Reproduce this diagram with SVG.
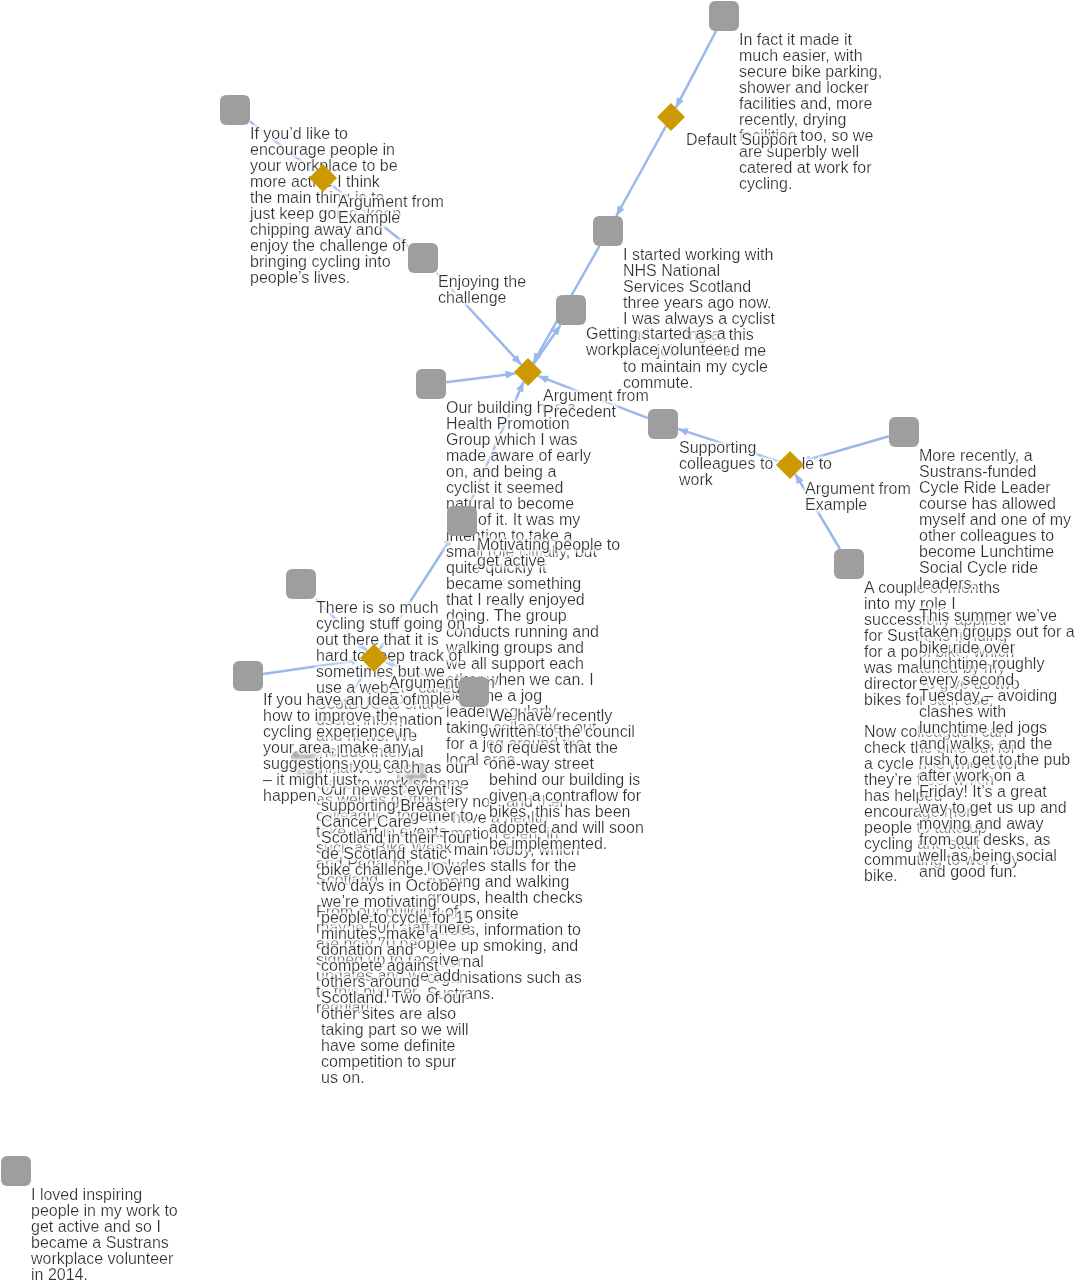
<svg xmlns="http://www.w3.org/2000/svg" width="1083" height="1287" viewBox="0 0 1083 1287">
<style>
.t{font-family:"Liberation Sans",Arial,sans-serif;font-size:16px;fill:#333;filter:url(#halo)}
.n{fill:#9e9e9e}
.d{fill:#cc9900}
.c{stroke:#9ab8ec;stroke-width:2.5;fill:none;marker-end:url(#ah)}
</style>
<defs>
<filter id="halo" x="-10%" y="-30%" width="120%" height="160%">
<feMorphology in="SourceAlpha" operator="dilate" radius="1.5" result="d"/>
<feGaussianBlur in="d" stdDeviation="1.5" result="b"/>
<feFlood flood-color="#ffffff" flood-opacity="0.95"/>
<feComposite in2="b" operator="in" result="g"/>
<feMerge><feMergeNode in="g"/><feMergeNode in="SourceGraphic"/></feMerge>
</filter>
<marker id="ah" markerUnits="userSpaceOnUse" markerWidth="10" markerHeight="8" refX="10" refY="4" orient="auto">
<path d="M0,0 L10,4 L0,8 z" fill="#9ab8ec"/>
</marker>
</defs>
<rect width="1083" height="1287" fill="#ffffff"/>
<g id="connectors">
<path class="c" d="M716.1,31 L675.8,107.8"/>
<path class="c" d="M666,126 L616.3,216"/>
<path class="c" d="M250,121.6 L315.1,171.9"/>
<path class="c" d="M330.8,184.2 L408,246"/>
<path class="c" d="M436.8,273 L521.3,364.7"/>
<path class="c" d="M599.5,246 L533.1,363"/>
<path class="c" d="M533.8,363.7 L560.6,325"/>
<path class="c" d="M446,382.2 L515.5,373.5"/>
<path class="c" d="M648,418.2 L538.1,375.9"/>
<path class="c" d="M468.6,506 L523.7,381.7"/>
<path class="c" d="M779.4,461.6 L678,428.9"/>
<path class="c" d="M889,436.3 L800.8,461.8"/>
<path class="c" d="M840,549 L795.2,473.8"/>
<path class="c" d="M379.5,649.5 L452.4,536"/>
<path class="c" d="M315.8,599 L367,651"/>
<path class="c" d="M263,673.9 L361.7,659.7"/>
<path class="c" d="M459,686.9 L384.4,661.5"/>
<path class="c" d="M315.4,751 L368.6,666.6"/>
<path class="c" d="M407.3,763 L377.4,668.7"/>
</g>
<g id="n14">
<rect class="n" x="1" y="1156" width="30" height="30" rx="6"/>
<text class="t" x="31" y="1200"><tspan x="31">I loved inspiring</tspan><tspan x="31" dy="16">people in my work to</tspan><tspan x="31" dy="16">get active and so I</tspan><tspan x="31" dy="16">became a Sustrans</tspan><tspan x="31" dy="16">workplace volunteer</tspan><tspan x="31" dy="16">in 2014.</tspan></text>
</g>
<g id="n1">
<rect class="n" x="709" y="1" width="30" height="30" rx="6"/>
<text class="t" x="739" y="45"><tspan x="739">In fact it made it</tspan><tspan x="739" dy="16">much easier, with</tspan><tspan x="739" dy="16">secure bike parking,</tspan><tspan x="739" dy="16">shower and locker</tspan><tspan x="739" dy="16">facilities and, more</tspan><tspan x="739" dy="16">recently, drying</tspan><tspan x="739" dy="16">facilities too, so we</tspan><tspan x="739" dy="16">are superbly well</tspan><tspan x="739" dy="16">catered at work for</tspan><tspan x="739" dy="16">cycling.</tspan></text>
</g>
<g id="d1">
<polygon class="d" points="671,103 685,117 671,131 657,117"/>
<text class="t" x="686" y="145">Default Support</text>
</g>
<g id="n2">
<rect class="n" x="220" y="95" width="30" height="30" rx="6"/>
<text class="t" x="250" y="139"><tspan x="250">If you’d like to</tspan><tspan x="250" dy="16">encourage people in</tspan><tspan x="250" dy="16">your workplace to be</tspan><tspan x="250" dy="16">more active I think</tspan><tspan x="250" dy="16">the main thing is to</tspan><tspan x="250" dy="16">just keep going, keep</tspan><tspan x="250" dy="16">chipping away and</tspan><tspan x="250" dy="16">enjoy the challenge of</tspan><tspan x="250" dy="16">bringing cycling into</tspan><tspan x="250" dy="16">people’s lives.</tspan></text>
</g>
<g id="d2">
<polygon class="d" points="323,164 337,178 323,192 309,178"/>
<text class="t" x="338" y="207"><tspan x="338">Argument from</tspan><tspan x="338" dy="16">Example</tspan></text>
</g>
<g id="n3">
<rect class="n" x="408" y="243" width="30" height="30" rx="6"/>
<text class="t" x="438" y="287"><tspan x="438">Enjoying the</tspan><tspan x="438" dy="16">challenge</tspan></text>
</g>
<g id="n4">
<rect class="n" x="593" y="216" width="30" height="30" rx="6"/>
<text class="t" x="623" y="260"><tspan x="623">I started working with</tspan><tspan x="623" dy="16">NHS National</tspan><tspan x="623" dy="16">Services Scotland</tspan><tspan x="623" dy="16">three years ago now.</tspan><tspan x="623" dy="16">I was always a cyclist</tspan><tspan x="623" dy="16">and starting at this</tspan><tspan x="623" dy="16">new job enabled me</tspan><tspan x="623" dy="16">to maintain my cycle</tspan><tspan x="623" dy="16">commute.</tspan></text>
</g>
<g id="n5">
<rect class="n" x="556" y="295" width="30" height="30" rx="6"/>
<text class="t" x="586" y="339"><tspan x="586">Getting started as a</tspan><tspan x="586" dy="16">workplace volunteer</tspan></text>
</g>
<g id="n6">
<rect class="n" x="416" y="369" width="30" height="30" rx="6"/>
<text class="t" x="446" y="413"><tspan x="446">Our building has a</tspan><tspan x="446" dy="16">Health Promotion</tspan><tspan x="446" dy="16">Group which I was</tspan><tspan x="446" dy="16">made aware of early</tspan><tspan x="446" dy="16">on, and being a</tspan><tspan x="446" dy="16">cyclist it seemed</tspan><tspan x="446" dy="16">natural to become</tspan><tspan x="446" dy="16">part of it. It was my</tspan><tspan x="446" dy="16">intention to take a</tspan><tspan x="446" dy="16">small role initially, but</tspan><tspan x="446" dy="16">quite quickly it</tspan><tspan x="446" dy="16">became something</tspan><tspan x="446" dy="16">that I really enjoyed</tspan><tspan x="446" dy="16">doing. The group</tspan><tspan x="446" dy="16">conducts running and</tspan><tspan x="446" dy="16">walking groups and</tspan><tspan x="446" dy="16">we all support each</tspan><tspan x="446" dy="16">other when we can. I</tspan><tspan x="446" dy="16">became a jog</tspan><tspan x="446" dy="16">leader regularly</tspan><tspan x="446" dy="16">taking colleagues out</tspan><tspan x="446" dy="16">for a jog around the</tspan><tspan x="446" dy="16">local area.</tspan></text>
</g>
<g id="n9">
<rect class="n" x="834" y="549" width="30" height="30" rx="6"/>
<text class="t" x="864" y="593"><tspan x="864">A couple of months</tspan><tspan x="864" dy="16">into my role I</tspan><tspan x="864" dy="16">successfully applied</tspan><tspan x="864" dy="16">for Sustrans funding</tspan><tspan x="864" dy="16">for a pool bike, which</tspan><tspan x="864" dy="16">was matched by my</tspan><tspan x="864" dy="16">director to give us two</tspan><tspan x="864" dy="16">bikes for staff use.</tspan><tspan x="864" dy="32">Now colleagues can</tspan><tspan x="864" dy="16">check the bike out for</tspan><tspan x="864" dy="16">a cycle ride whenever</tspan><tspan x="864" dy="16">they’re free, which</tspan><tspan x="864" dy="16">has helped</tspan><tspan x="864" dy="16">encourage more</tspan><tspan x="864" dy="16">people to take up</tspan><tspan x="864" dy="16">cycling and start</tspan><tspan x="864" dy="16">commuting to work by</tspan><tspan x="864" dy="16">bike.</tspan></text>
</g>
<g id="n8">
<rect class="n" x="889" y="417" width="30" height="30" rx="6"/>
<text class="t" x="919" y="461"><tspan x="919">More recently, a</tspan><tspan x="919" dy="16">Sustrans-funded</tspan><tspan x="919" dy="16">Cycle Ride Leader</tspan><tspan x="919" dy="16">course has allowed</tspan><tspan x="919" dy="16">myself and one of my</tspan><tspan x="919" dy="16">other colleagues to</tspan><tspan x="919" dy="16">become Lunchtime</tspan><tspan x="919" dy="16">Social Cycle ride</tspan><tspan x="919" dy="16">leaders.</tspan><tspan x="919" dy="32">This summer we’ve</tspan><tspan x="919" dy="16">taken groups out for a</tspan><tspan x="919" dy="16">bike ride over</tspan><tspan x="919" dy="16">lunchtime roughly</tspan><tspan x="919" dy="16">every second</tspan><tspan x="919" dy="16">Tuesday – avoiding</tspan><tspan x="919" dy="16">clashes with</tspan><tspan x="919" dy="16">lunchtime led jogs</tspan><tspan x="919" dy="16">and walks, and the</tspan><tspan x="919" dy="16">rush to get to the pub</tspan><tspan x="919" dy="16">after work on a</tspan><tspan x="919" dy="16">Friday! It’s a great</tspan><tspan x="919" dy="16">way to get us up and</tspan><tspan x="919" dy="16">moving and away</tspan><tspan x="919" dy="16">from our desks, as</tspan><tspan x="919" dy="16">well as being social</tspan><tspan x="919" dy="16">and good fun.</tspan></text>
</g>
<g id="n7">
<rect class="n" x="648" y="409" width="30" height="30" rx="6"/>
<text class="t" x="679" y="453"><tspan x="679">Supporting</tspan><tspan x="679" dy="16">colleagues to cycle to</tspan><tspan x="679" dy="16">work</tspan></text>
</g>
<g id="d4">
<polygon class="d" points="790,451 804,465 790,479 776,465"/>
<text class="t" x="805" y="494"><tspan x="805">Argument from</tspan><tspan x="805" dy="16">Example</tspan></text>
</g>
<g id="d3">
<polygon class="d" points="528,358 542,372 528,386 514,372"/>
<text class="t" x="543" y="401"><tspan x="543">Argument from</tspan><tspan x="543" dy="16">Precedent</tspan></text>
</g>
<g id="n16">
<rect class="n" x="397" y="763" width="30" height="30" rx="6"/>
<text class="t" x="427" y="807"><tspan x="427">Every now and then</tspan><tspan x="427" dy="16">we have a health</tspan><tspan x="427" dy="16">promotion event in</tspan><tspan x="427" dy="16">the main lobby, which</tspan><tspan x="427" dy="16">includes stalls for the</tspan><tspan x="427" dy="16">running and walking</tspan><tspan x="427" dy="16">groups, health checks</tspan><tspan x="427" dy="16">by our onsite</tspan><tspan x="427" dy="16">nurses, information to</tspan><tspan x="427" dy="16">give up smoking, and</tspan><tspan x="427" dy="16">external</tspan><tspan x="427" dy="16">organisations such as</tspan><tspan x="427" dy="16">Sustrans.</tspan></text>
</g>
<g id="n11">
<rect class="n" x="286" y="569" width="30" height="30" rx="6"/>
<text class="t" x="316" y="613"><tspan x="316">There is so much</tspan><tspan x="316" dy="16">cycling stuff going on</tspan><tspan x="316" dy="16">out there that it is</tspan><tspan x="316" dy="16">hard to keep track of</tspan><tspan x="316" dy="16">sometimes but we</tspan><tspan x="316" dy="16">use a website called</tspan><tspan x="316" dy="16">ScotBUG to share</tspan><tspan x="316" dy="16">useful information</tspan><tspan x="316" dy="16">and news. We</tspan><tspan x="316" dy="16">include internal</tspan><tspan x="316" dy="16">initiatives such as our</tspan><tspan x="316" dy="16">cycle to work scheme</tspan><tspan x="316" dy="16">as well as getting</tspan><tspan x="316" dy="16">colleagues together to</tspan><tspan x="316" dy="16">take part in events</tspan><tspan x="316" dy="16">such as Bike Week</tspan><tspan x="316" dy="16">and Pedal for</tspan><tspan x="316" dy="16">Scotland.</tspan><tspan x="316" dy="32">From our building of</tspan><tspan x="316" dy="16">maybe 500 staff there</tspan><tspan x="316" dy="16">are now 70 people</tspan><tspan x="316" dy="16">signed up to receive</tspan><tspan x="316" dy="16">updates and we add</tspan><tspan x="316" dy="16">to this number</tspan><tspan x="316" dy="16">regularly.</tspan></text>
</g>
<g id="d5">
<polygon class="d" points="374,644 388,658 374,672 360,658"/>
<text class="t" x="389" y="688"><tspan x="389">Argument from</tspan><tspan x="389" dy="16">Example</tspan></text>
</g>
<g id="n13">
<rect class="n" x="459" y="677" width="30" height="30" rx="6"/>
<text class="t" x="489" y="721"><tspan x="489">We have recently</tspan><tspan x="489" dy="16">written to the council</tspan><tspan x="489" dy="16">to request that the</tspan><tspan x="489" dy="16">one-way street</tspan><tspan x="489" dy="16">behind our building is</tspan><tspan x="489" dy="16">given a contraflow for</tspan><tspan x="489" dy="16">bikes, this has been</tspan><tspan x="489" dy="16">adopted and will soon</tspan><tspan x="489" dy="16">be implemented.</tspan></text>
</g>
<g id="n10">
<rect class="n" x="447" y="506" width="30" height="30" rx="6"/>
<text class="t" x="477" y="550"><tspan x="477">Motivating people to</tspan><tspan x="477" dy="16">get active</tspan></text>
</g>
<g id="n15">
<rect class="n" x="291" y="751" width="30" height="30" rx="6"/>
<text class="t" x="321" y="795"><tspan x="321">Our newest event is</tspan><tspan x="321" dy="16">supporting Breast</tspan><tspan x="321" dy="16">Cancer Care</tspan><tspan x="321" dy="16">Scotland in their Tour</tspan><tspan x="321" dy="16">de Scotland static</tspan><tspan x="321" dy="16">bike challenge. Over</tspan><tspan x="321" dy="16">two days in October</tspan><tspan x="321" dy="16">we’re motivating</tspan><tspan x="321" dy="16">people to cycle for 15</tspan><tspan x="321" dy="16">minutes, make a</tspan><tspan x="321" dy="16">donation and</tspan><tspan x="321" dy="16">compete against</tspan><tspan x="321" dy="16">others around</tspan><tspan x="321" dy="16">Scotland. Two of our</tspan><tspan x="321" dy="16">other sites are also</tspan><tspan x="321" dy="16">taking part so we will</tspan><tspan x="321" dy="16">have some definite</tspan><tspan x="321" dy="16">competition to spur</tspan><tspan x="321" dy="16">us on.</tspan></text>
</g>
<g id="n12">
<rect class="n" x="233" y="661" width="30" height="30" rx="6"/>
<text class="t" x="263" y="705"><tspan x="263">If you have an idea of</tspan><tspan x="263" dy="16">how to improve the</tspan><tspan x="263" dy="16">cycling experience in</tspan><tspan x="263" dy="16">your area, make any</tspan><tspan x="263" dy="16">suggestions you can</tspan><tspan x="263" dy="16">– it might just</tspan><tspan x="263" dy="16">happen.</tspan></text>
</g>
</svg>
